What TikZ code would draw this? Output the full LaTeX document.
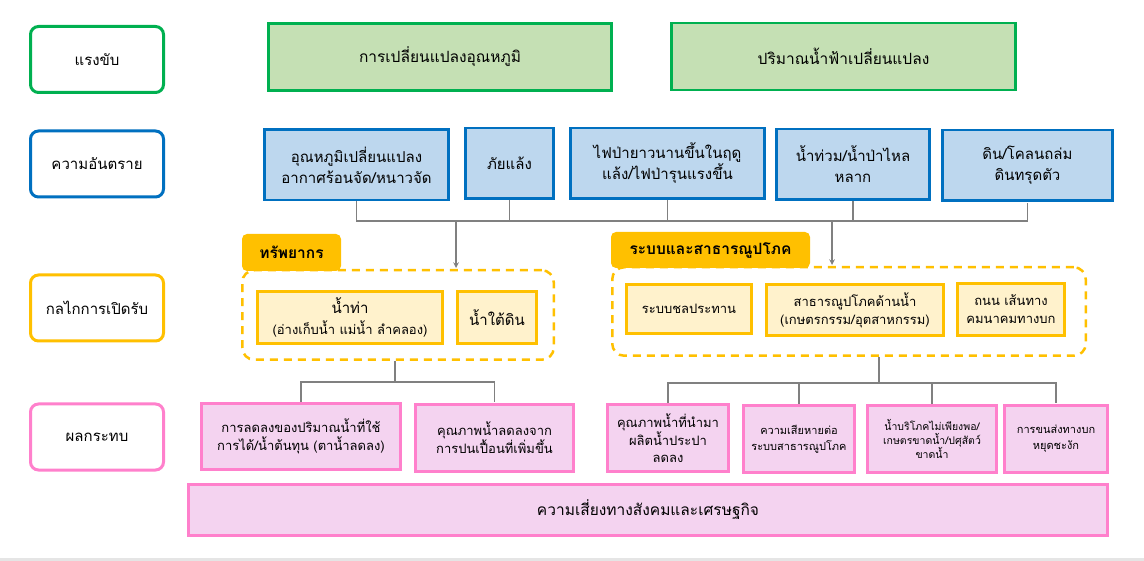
\documentclass[tikz,border=0pt]{standalone}
\usepackage{fontspec}
\setmainfont{Loma}[Script=Thai]
\usepackage{tikz}
\usetikzlibrary{arrows}

\definecolor{drvline}{HTML}{00B050}
\definecolor{drvfill}{HTML}{C5E0B4}
\definecolor{hazline}{HTML}{0070C0}
\definecolor{hazfill}{HTML}{BDD7EE}
\definecolor{expline}{HTML}{FFC000}
\definecolor{expfill}{HTML}{FFF2CC}
\definecolor{impline}{HTML}{FF80CC}
\definecolor{impfill}{HTML}{F4D3F0}
\definecolor{connline}{HTML}{808080}

\begin{document}
\begin{tikzpicture}
[> = stealth, % arrow head style
shorten > = 1pt, % don't touch arrow head to node
x = 1pt, y = -1pt, % one unit per pixel, y goes down
font = \fontsize{15}{21}\selectfont,
rowbox/.style = {draw, rounded corners=8, line width=3pt, fill=white, minimum width=133, minimum height=66, inner sep=0},
driverbox/.style = {draw=drvline, fill=drvfill, line width=2.5pt, minimum height=67, inner sep=0, font=\fontsize{15.5}{21}\selectfont},
hazardbox/.style = {draw=hazline, fill=hazfill, line width=2.5pt, minimum height=70.5, inner sep=0, align=center},
groupbox/.style = {draw=expline, dash pattern=on 8pt off 6pt, rounded corners=12, line width=2.5pt, inner sep=0},
tagbox/.style = {fill=expline, rounded corners=5, inner sep=0, font=\bfseries\fontsize{15.5}{21}\selectfont},
expobox/.style = {draw=expline, fill=expfill, line width=3pt, inner sep=0, align=center},
impactbox/.style = {draw=impline, fill=impfill, line width=3pt, inner sep=0, align=center, minimum height=67},
conn/.style = {draw=connline, line width=1.5pt}]

\fill[white] (0,0) rectangle (1144,561);
\useasboundingbox (0,0) rectangle (1144,561);
\fill[black!10] (0,558) rectangle (1144,561);

% row names
\node[rowbox, draw=drvline] (rD) at (97,59.5) {แรงขับ};
\node[rowbox, draw=hazline] (rH) at (97,164) {ความอันตราย};
\node[rowbox, draw=expline] (rE) at (97,308) {กลไกการเปิดรับ};
\node[rowbox, draw=impline] (rI) at (97,437) {ผลกระทบ};

% drivers
\node[driverbox, minimum width=343] (d1) at (440,57) {การเปลี่ยนแปลงอุณหภูมิ};
\node[driverbox, minimum width=344] (d2) at (843.5,56.5) {ปริมาณน้ำฟ้าเปลี่ยนแปลง};

% hazards
\node[hazardbox, minimum width=184] (h1) at (356.5,165) {อุณหภูมิเปลี่ยนแปลง\\อากาศร้อนจัด/หนาวจัด};
\node[hazardbox, minimum width=88] (h2) at (509.5,163.5) {ภัยแล้ง};
\node[hazardbox, minimum width=194] (h3) at (667.5,163.5) {ไฟป่ายาวนานขึ้นในฤดู\\แล้ง/ไฟป่ารุนแรงขึ้น};
\node[hazardbox, minimum width=153] (h4) at (853,164.5) {น้ำท่วม/น้ำป่าไหล\\หลาก};
\node[hazardbox, minimum width=170] (h5) at (1027.5,165.5) {ดิน/โคลนถล่ม\\ดินทรุดตัว};

% exposure groups
\node[groupbox, minimum width=311.5, minimum height=89.5] (res) at (398,315) {};
\node[groupbox, minimum width=473.5, minimum height=88.5] (uti) at (849,311.5) {};
\node[tagbox, minimum width=99, minimum height=37] (t1) at (291.5,252.5) {ทรัพยากร};
\node[tagbox, minimum width=199, minimum height=36] (t2) at (710.5,250) {ระบบและสาธารณูปโภค};

\node[expobox, minimum width=185, minimum height=52] (e1) at (350,317.5) {น้ำท่า\\{\fontsize{13}{18}\selectfont (อ่างเก็บน้ำ แม่น้ำ ลำคลอง)}};
\node[expobox, minimum width=79, minimum height=52] (e2) at (497,317.5) {น้ำใต้ดิน};
\node[expobox, minimum width=125, minimum height=49, font=\fontsize{13}{18}\selectfont] (e3) at (689,309) {ระบบชลประทาน};
\node[expobox, minimum width=177, minimum height=51, font=\fontsize{13}{18}\selectfont] (e4) at (855,310) {สาธารณูปโภคด้านน้ำ\\(เกษตรกรรม/อุตสาหกรรม)};
\node[expobox, minimum width=107, minimum height=52, font=\fontsize{13}{18}\selectfont] (e5) at (1011,309.5) {ถนน เส้นทาง\\คมนาคมทางบก};

% impacts
\node[impactbox, minimum width=199, minimum height=66, font=\fontsize{13}{18}\selectfont] (i1) at (301,436.5) {การลดลงของปริมาณน้ำที่ใช้\\การได้/น้ำต้นทุน (ตาน้ำลดลง)};
\node[impactbox, minimum width=158, font=\fontsize{13}{18}\selectfont] (i2) at (494.5,438) {คุณภาพน้ำลดลงจาก\\การปนเปื้อนที่เพิ่มขึ้น};
\node[impactbox, minimum width=121, font=\fontsize{13}{16.5}\selectfont] (i3) at (668,438) {คุณภาพน้ำที่นำมา\\ผลิตน้ำประปา\\ลดลง};
\node[impactbox, minimum width=111, font=\fontsize{11}{16}\selectfont] (i4) at (799,439) {ความเสียหายต่อ\\ระบบสาธารณูปโภค};
\node[impactbox, minimum width=129, font=\fontsize{10.5}{14}\selectfont] (i5) at (932,439) {น้ำบริโภคไม่เพียงพอ/\\เกษตรขาดน้ำ/ปศุสัตว์\\ขาดน้ำ};
\node[impactbox, minimum width=103, font=\fontsize{11}{16}\selectfont] (i6) at (1056,439) {การขนส่งทางบก\\หยุดชะงัก};
\node[impactbox, minimum width=919, minimum height=51, font=\fontsize{15.5}{21}\selectfont] (risk) at (648,510) {ความเสี่ยงทางสังคมและเศรษฐกิจ};

% hazards to exposure
\coordinate (hbus) at (0,221);
\draw[conn] (h1.south) -- (h1.south |- hbus) -- (h5.south |- hbus) -- (h5.south);
\foreach \n in {h2,h3,h4}
  \draw[conn] (\n.south) -- (\n.south |- hbus);
\coordinate (a1) at (456,221);
\coordinate (a2) at (832,221);
\draw[conn,->] (a1) -- (a1 |- res.north);
\draw[conn,->] (a2) -- (a2 |- uti.north);

% exposure to impacts
\coordinate (lbus) at (395,382);
\draw[conn] (lbus |- res.south) -- (lbus);
\draw[conn] (i1.north) -- (i1.north |- lbus) -- (i2.north |- lbus) -- (i2.north);
\coordinate (rbus) at (879,383);
\draw[conn] (rbus |- uti.south) -- (rbus);
\draw[conn] (i3.north) -- (i3.north |- rbus) -- (i6.north |- rbus) -- (i6.north);
\foreach \n in {i4,i5}
  \draw[conn] (\n.north) -- (\n.north |- rbus);
\end{tikzpicture}
\end{document}
